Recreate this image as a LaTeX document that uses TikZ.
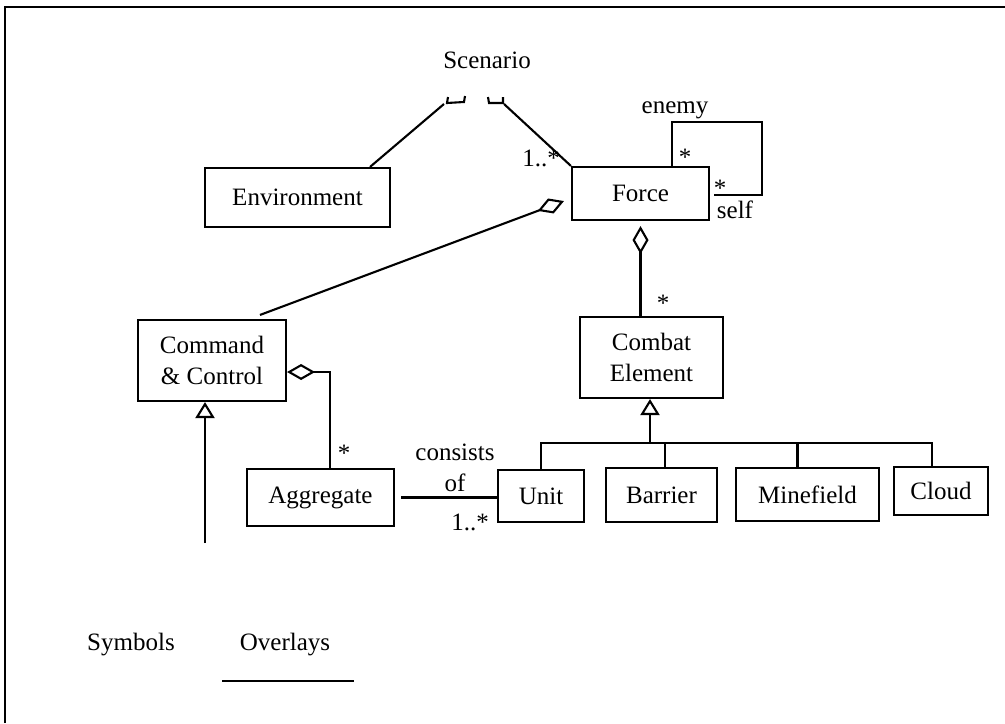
\documentclass[tikz,border=0pt]{standalone}
\usepackage{fontspec}
\setmainfont{Liberation Serif}
\usetikzlibrary{arrows.meta}
\tikzset{
  cls/.style={draw, inner sep=0pt, align=center},
  agg/.style={-{Diamond[open,length=14pt,width=8pt]}},
  gen/.style={-{Triangle[open,length=8pt,width=9.5pt]}},
}
\begin{document}
\begin{tikzpicture}[x=0.5pt,y=-0.5pt,line width=1.05pt,
    font=\fontsize{12.5}{15.5}\selectfont]
  \useasboundingbox (0,0) rectangle (1005,723);
  \draw[line width=1.3pt] (5,723) -- (5,7) -- (1005,7);

  \node (scen) at (487,60) {Scenario};
  \node[cls, minimum width=92.5pt, minimum height=29.5pt] (env) at (297.5,197.5) {Environment};
  \node[cls, minimum width=68.5pt, minimum height=26.5pt] (force) at (640.5,193.5) {Force};
  \node[cls, minimum width=74pt, minimum height=40.5pt] (cc) at (212,360.5) {Command\\\& Control};
  \node[cls, minimum width=71.5pt, minimum height=40.5pt] (ce) at (651.5,357.5) {Combat\\Element};
  \node[cls, minimum width=73.5pt, minimum height=28.5pt] (agg) at (320.5,497.5) {Aggregate};
  \node[cls, minimum width=43pt, minimum height=26pt] (unit) at (541,496) {Unit};
  \node[cls, minimum width=55.5pt, minimum height=27pt] (barrier) at (661.5,495) {Barrier};
  \node[cls, minimum width=71.5pt, minimum height=26.5pt] (mine) at (807.5,494.5) {Minefield};
  \node[cls, minimum width=47pt, minimum height=24pt] (cloud) at (941,491) {Cloud};

  \node (sym) at (131,645) {Symbols};
  \node (ovl) at (285,645) {Overlays};
  \draw ([xshift=-5pt,yshift=-8.5pt]ovl.south west) -- ([xshift=8pt,yshift=-8.5pt]ovl.south east);

  % scenario
  \coordinate (s1) at (444,104);
  \coordinate (s2) at (504,104);
  \draw (448,97) -- (447,103) -- (464,102) -- (465,96);
  \draw (488,97) -- (489,103) -- (503,103) -- (503,97);
  \draw ([xshift=36.25pt]env.north) -- (s1);
  \draw (force.north west) -- (s2);
  \node (m1) at (541,158) {1..*};

  % enemy / self
  \coordinate (loop) at (762,195);
  \draw ([xshift=15.75pt]force.north) -- ++(0,-44) -| (loop) -- ([xshift=2pt,yshift=-0.75pt]force.east);
  \node (enemy) at (675,110) {enemy};
  \node (m2) at (685,157) {*};
  \node (m3) at (720,188) {*};
  \node (self) at (735,210) {self};

  % aggregation
  \draw[agg] ([xshift=24pt,yshift=2pt]cc.north) -- ([xshift=-3.5pt,yshift=10pt]force.south west);
  \draw[agg] (force.south |- ce.north) -- ([yshift=-2.5pt]force.south);
  \node (m4) at (663,303) {*};
  \coordinate (aggtop) at (330,372);
  \draw (agg.north -| aggtop) -- ++(0,-82);
  \draw[agg] ([yshift=6pt]agg.north -| aggtop) -- (aggtop) -- ([yshift=-5.75pt]cc.east);
  \node (m5) at (344,453) {*};

  % consists of
  \draw ([xshift=3pt]agg.east) -- (agg.east -| unit.west);
  \node[align=center] (cons) at (455,468) {consists\\of};
  \node (m6) at (470,522) {1..*};

  % generalisation
  \coordinate (bar) at (650,443);
  \draw[gen] (bar) -- (bar |- ce.south);
  \draw (unit.north) |- (bar);
  \draw ([xshift=1.75pt]barrier.north) |- (bar);
  \draw ([xshift=-5pt]mine.north) |- (bar);
  \draw ([xshift=-4.5pt]cloud.north) |- (bar);
  \coordinate (ccleg) at (205,543);
  \draw[gen] (ccleg) -- (ccleg |- cc.south);
\end{tikzpicture}
\end{document}
